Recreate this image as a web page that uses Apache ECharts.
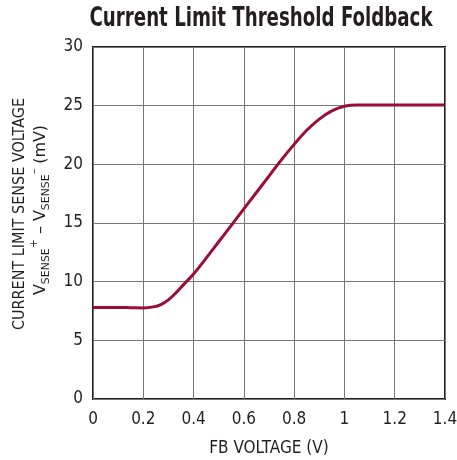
<!DOCTYPE html>
<html><head><meta charset="utf-8">
<script src="https://cdn.jsdelivr.net/npm/echarts@6/dist/echarts.min.js"></script>
<style>html,body{margin:0;padding:0;background:#fff}#c{width:457px;height:460px}</style>
</head><body><div id="c"></div>
<script>
var fbVoltage = [0, 0.05, 0.1, 0.15, 0.2, 0.24, 0.27, 0.3, 0.33, 0.36, 0.4, 0.45, 0.5, 0.55, 0.6, 0.65, 0.7, 0.75, 0.8, 0.85, 0.9, 0.95, 1.0, 1.05, 1.1, 1.2, 1.3, 1.4];
var senseVoltage = [7.8, 7.8, 7.8, 7.78, 7.76, 7.85, 8.05, 8.45, 9.05, 9.75, 10.65, 12.0, 13.4, 14.8, 16.2, 17.6, 19.0, 20.4, 21.7, 22.9, 23.85, 24.55, 24.95, 25.05, 25.05, 25.05, 25.05, 25.05];
var titleText = 'Current Limit Threshold Foldback';
var xName = 'FB VOLTAGE (V)';
var yName1 = 'CURRENT LIMIT SENSE VOLTAGE';
var yName2Parts = [['V', 'n'], ['SENSE', 'sub'], ['+', 'sup'], [' – V', 'n'], ['SENSE', 'sub'], ['–', 'sup'], [' (mV)', 'n']];

var F = '"DejaVu Sans Condensed", "Liberation Sans Narrow", sans-serif';
var ctx = document.createElement('canvas').getContext('2d');
function measure(t, size, weight) { ctx.font = (weight || 'normal') + ' ' + size + 'px ' + F; return ctx.measureText(t).width; }

// title squeezed to reference width
var titleSize = 27, titleW = measure(titleText, titleSize, 'bold');
var titleScale = 343 / titleW;

// second y-name line, laid out piece by piece
var sizes = { n: 16, sub: 11, sup: 11 }, offs = { n: 0, sub: 5, sup: -7 };
var total = 0, widths = yName2Parts.map(function (p) { var w = measure(p[0], sizes[p[1]]); total += w; return w; });
var scale2 = 170 / total;
var cx = -85, kids = [];
yName2Parts.forEach(function (p, i) {
  kids.push({ type: 'text', x: cx, y: offs[p[1]], style: { text: p[0], fontFamily: F, fontSize: sizes[p[1]], fill: '#231f20', align: 'left', verticalAlign: 'middle' } });
  cx += widths[i] * scale2;
});
kids.forEach(function (k) { k.scaleX = scale2; });

var chart = echarts.init(document.getElementById('c'));
var data = fbVoltage.map(function (x, i) { return [x, senseVoltage[i]]; });
chart.setOption({
  animation: false,
  grid: { left: 93, right: 12, top: 47, bottom: 61, outerBoundsMode: 'none', containLabel: false,
    show: true, borderColor: '#231f20', borderWidth: 2 },
  xAxis: { type: 'value', min: 0, max: 1.4, interval: 0.2,
    name: xName, nameLocation: 'middle', nameGap: 41,
    nameTextStyle: { fontFamily: F, fontSize: 17, color: '#231f20' },
    axisLine: { show: false }, axisTick: { show: false },
    axisLabel: { fontFamily: F, fontSize: 17, color: '#231f20', margin: 12 },
    splitLine: { show: true, lineStyle: { color: '#777777', width: 1 } } },
  yAxis: { type: 'value', min: 0, max: 30, interval: 5,
    axisLine: { show: false }, axisTick: { show: false },
    axisLabel: { fontFamily: F, fontSize: 17, color: '#231f20', margin: 10 },
    splitLine: { show: true, lineStyle: { color: '#777777', width: 1 } } },
  graphic: [{
    type: 'text', x: 261, y: 19, scaleX: titleScale,
    style: { text: titleText, fontFamily: F, fontWeight: 'bold', fontSize: titleSize, fill: '#231f20', align: 'center', verticalAlign: 'middle' }
  }, {
    type: 'group', x: 20, y: 214, rotation: Math.PI / 2,
    children: [
      { type: 'text', x: 0, y: 0, style: { text: yName1, fontFamily: F, fontSize: 16, fill: '#231f20', align: 'center', verticalAlign: 'middle' } }
    ]
  }, {
    type: 'group', x: 41, y: 210, rotation: Math.PI / 2,
    children: kids
  }],
  series: [{ type: 'line', data: data, smooth: 0.35, symbol: 'none',
    lineStyle: { color: '#9c0c35', width: 3 } }]
});
</script></body></html>
